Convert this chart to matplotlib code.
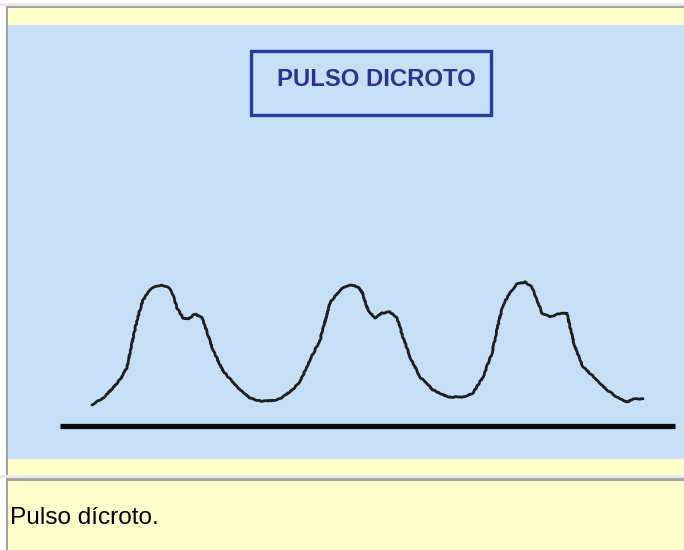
import matplotlib
matplotlib.use("Agg")
import matplotlib.pyplot as plt
from matplotlib.patches import Rectangle
import numpy as np

# ---- data (time in px-like units, amplitude above baseline) ----
pulse_t = [92, 103, 113, 122, 127, 132, 137, 143, 150, 156, 162, 168, 172, 177, 183, 188, 195, 202,
           207, 213, 223, 237, 250, 260, 267, 277, 283, 292, 300, 310, 320, 330, 340, 346, 352,
           358, 362, 368, 375, 382, 390, 397, 403, 410, 420, 433, 448, 463, 473, 483, 492, 498,
           503, 508, 512, 517, 525, 532, 537, 542, 550, 558, 567, 570, 575, 583, 595, 607, 617,
           627, 633, 643]
pulse_y = [405, 398, 388, 377, 367, 343, 320, 300, 290, 286, 285, 287, 292, 308, 318, 319, 314, 318,
           332, 350, 371, 387, 398, 401, 401, 400, 397, 390, 382, 360, 340, 303, 290, 286, 285,
           287, 292, 310, 318, 313, 312, 318, 337, 357, 377, 390, 397, 397, 393, 377, 353, 325,
           305, 296, 290, 284, 282, 287, 300, 313, 317, 314, 313, 327, 347, 367, 378, 390, 397,
           402, 399, 399]
baseline_px = 426
pulse_amp = [baseline_px - v for v in pulse_y]
axis_t = [60, 675]
axis_amp = [0, 0]

title_text = "PULSO DICROTO"
caption_text = "Pulso dícroto."

W, H = 684, 550
fig = plt.figure(figsize=(W / 100, H / 100), dpi=100)
fig.patch.set_facecolor("white")


def rect(x0, y0, x1, y1, **kw):
    # pixel coords (y from top) -> figure fraction
    r = Rectangle((x0 / W, 1 - y1 / H), (x1 - x0) / W, (y1 - y0) / H,
                  transform=fig.transFigure, **kw)
    fig.add_artist(r)
    return r


yellow = "#FFFFCC"
blue = "#C6DFF7"
gray = "#A3A3A3"
light = "#E9E9E9"

rect(0, 3, W, 6, facecolor=light, edgecolor="none")
rect(6, 6, W, 8, facecolor=gray, edgecolor="none")
rect(6, 6, 8, 475, facecolor=gray, edgecolor="none")
rect(8, 8, W, 25, facecolor=yellow, edgecolor="none")
rect(8, 459, W, 475, facecolor=yellow, edgecolor="none")
rect(0, 475, W, 478, facecolor=light, edgecolor="none")
rect(6, 478, W, 481, facecolor=gray, edgecolor="none")
rect(6, 478, 8, H, facecolor=gray, edgecolor="none")
rect(8, 481, W, H, facecolor=yellow, edgecolor="none")

# main panel axes (blue area)
px0, py0, px1, py1 = 8, 25, 684, 459
ax = fig.add_axes([px0 / W, 1 - py1 / H, (px1 - px0) / W, (py1 - py0) / H])
ax.set_facecolor(blue)
ax.set_xlim(px0, px1)
ax.set_ylim(baseline_px - py1, baseline_px - py0)
for s in ax.spines.values():
    s.set_visible(False)
ax.set_xticks([])
ax.set_yticks([])

line, = ax.plot(pulse_t, pulse_amp, color="#1E1E1E", lw=2.0, solid_capstyle="round",
                solid_joinstyle="round")
line.set_sketch_params(scale=0.4, length=8, randomness=6)
ax.plot(axis_t, axis_amp, color="#0A0A0A", lw=3.8, solid_capstyle="butt")

# title box
rect(251, 51, 491, 115, facecolor="none", edgecolor="#2B3A98", lw=2.4)
fig.text(376 / W, 1 - 80 / H, title_text, ha="center", va="center",
         fontsize=17.2, fontweight="bold", color="#2E3192", family="Liberation Sans")

# caption
fig.text(10 / W, 1 - 524 / H, caption_text, ha="left", va="baseline",
         fontsize=17.6, color="#000000", family="Liberation Sans")

fig.savefig("out.png", dpi=100)
